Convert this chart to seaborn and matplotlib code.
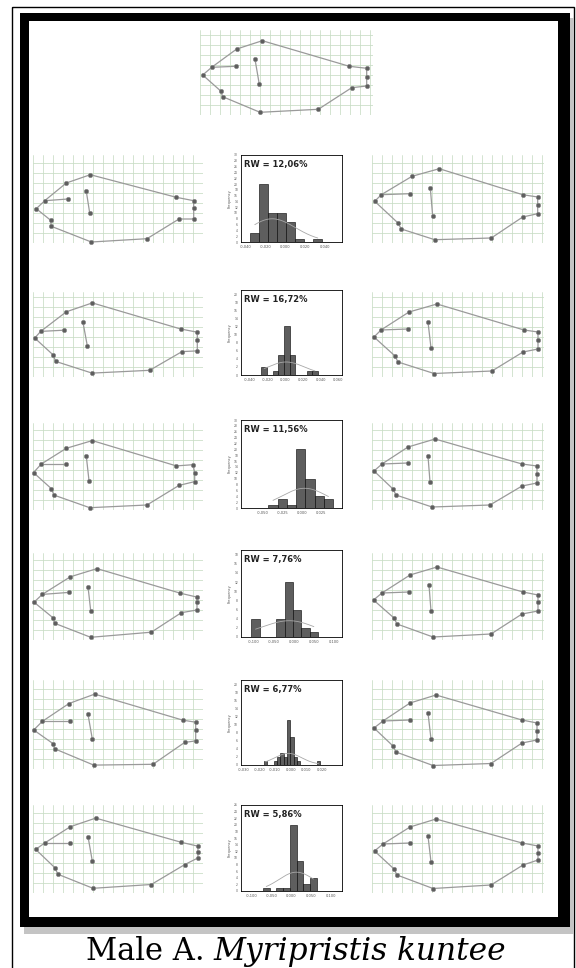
import numpy as np
import pandas as pd
import matplotlib.pyplot as plt
import seaborn as sn
from matplotlib.patches import Rectangle

# landmark configurations (grid units, 1 unit = 1 grid cell)
# order: A snout, B, C, D, E, F, G, H, I, J, K, L, M, N, P, Q
consensus = [(0.27,4.0),(1.17,4.77),(3.6,4.87),(3.67,6.6),(6.23,7.43),(14.93,4.87),(16.67,4.67),(16.67,3.83),
             (16.67,2.9),(15.17,2.73),(11.83,0.57),(6.0,0.27),(2.27,1.83),(2.07,2.4),(5.5,5.57),(5.93,3.07)]
left1 = [(0.33,3.43),(1.17,4.23),(3.5,4.4),(3.33,6.0),(5.73,6.83),(14.33,4.57),(16.07,4.23),(16.07,3.5),
         (16.07,2.4),(14.6,2.4),(11.4,0.43),(5.83,0.1),(1.83,1.67),(1.77,2.27),(5.33,5.17),(5.67,3.0)]
right1 = [(0.27,4.17),(0.93,4.83),(3.83,4.93),(4.0,6.67),(6.73,7.43),(15.07,4.83),(16.57,4.6),(16.57,3.83),
          (16.57,2.93),(15.07,2.6),(11.93,0.5),(6.27,0.33),(2.93,1.4),(2.6,2.0),(5.83,5.5),(6.07,2.67)]
left2 = [(0.17,3.9),(0.77,4.56),(3.1,4.68),(3.33,6.52),(5.93,7.41),(14.77,4.8),(16.43,4.48),(16.43,3.71),
         (16.43,2.61),(14.9,2.54),(11.67,0.67),(5.9,0.39),(2.27,1.56),(2.0,2.22),(5.0,5.46),(5.43,3.12)]
right2 = [(0.2,4.0),(0.9,4.7),(3.6,4.8),(3.7,6.5),(6.5,7.3),(15.2,4.7),(16.6,4.5),(16.6,3.7),
          (16.6,2.8),(15.1,2.5),(12.0,0.6),(6.2,0.35),(2.6,1.5),(2.3,2.1),(5.6,5.5),(5.9,2.9)]
left3 = [(0.05,3.74),(0.83,4.6),(3.33,4.6),(3.33,6.17),(5.93,6.94),(14.33,4.41),(16.0,4.53),(16.17,3.71),
         (16.17,2.84),(14.6,2.46),(11.4,0.5),(5.67,0.23),(2.1,1.49),(1.83,2.14),(5.33,5.38),(5.6,2.93)]
right3 = [(0.2,3.9),(1.0,4.6),(3.6,4.7),(3.6,6.3),(6.3,7.1),(15.0,4.6),(16.5,4.4),(16.5,3.6),
          (16.5,2.7),(15.0,2.4),(11.8,0.5),(6.0,0.3),(2.4,1.5),(2.1,2.1),(5.6,5.4),(5.8,2.8)]
left4 = [(0.1,3.78),(0.93,4.56),(3.6,4.76),(3.73,6.32),(6.4,7.14),(14.73,4.68),(16.4,4.29),(16.4,3.78),
         (16.4,3.0),(14.83,2.73),(11.83,0.78),(5.77,0.27),(2.17,1.67),(2.0,2.22),(5.5,5.35),(5.77,2.93)]
right4 = [(0.15,4.0),(1.0,4.7),(3.7,4.8),(3.8,6.5),(6.5,7.3),(15.1,4.8),(16.6,4.5),(16.6,3.8),
          (16.6,2.9),(15.0,2.6),(11.9,0.6),(6.1,0.3),(2.5,1.6),(2.2,2.2),(5.7,5.5),(5.9,2.9)]
left5 = [(0.07,3.9),(0.93,4.76),(3.67,4.76),(3.6,6.55),(6.17,7.49),(15.0,4.88),(16.27,4.68),(16.27,3.9),
         (16.27,2.81),(15.17,2.66),(12.0,0.47),(6.07,0.39),(2.17,2.02),(2.0,2.54),(5.5,5.46),(5.93,3.0)]
right5 = [(0.2,4.1),(1.1,4.8),(3.8,4.9),(3.8,6.6),(6.4,7.4),(15.0,4.9),(16.5,4.6),(16.5,3.8),
          (16.5,2.9),(15.0,2.6),(11.9,0.55),(6.1,0.35),(2.4,1.7),(2.1,2.3),(5.6,5.6),(5.9,3.0)]
left6 = [(0.27,4.36),(1.17,5.0),(3.73,5.0),(3.73,6.63),(6.27,7.49),(14.83,5.07),(16.5,4.68),(16.5,4.1),
         (16.5,3.51),(15.17,2.84),(11.83,0.85),(6.0,0.47),(2.5,1.87),(2.17,2.54),(5.5,5.65),(5.93,3.19)]
right6 = [(0.25,4.2),(1.1,4.9),(3.8,5.0),(3.8,6.6),(6.4,7.4),(15.0,5.0),(16.6,4.7),(16.6,4.0),
          (16.6,3.3),(15.1,2.8),(11.9,0.8),(6.1,0.45),(2.5,1.8),(2.2,2.4),(5.6,5.7),(5.9,3.1)]

# histograms of relative warp scores
rw_labels = ['RW = 12,06%', 'RW = 16,72%', 'RW = 11,56%', 'RW = 7,76%', 'RW = 6,77%', 'RW = 5,86%']
h1_counts = [3, 20, 10, 10, 7, 1, 0, 1]
h2_counts = [2, 0, 1, 5, 12, 5, 0, 0, 1, 1]
h3_counts = [1, 3, 1, 20, 10, 4, 3]
h4_counts = [4, 0, 0, 4, 12, 6, 2, 1]
h5_counts = [1, 0, 0, 1, 2, 3, 2, 11, 7, 2, 1, 0, 0, 0, 0, 0, 1]
h6_counts = [1, 0, 1, 1, 20, 9, 2, 4]
bin_start = [-0.035, -0.0272, -0.043, -0.1058, -0.01723, -0.072]
bin_width = [0.009, 0.0064, 0.01184, 0.02083, 0.002128, 0.01695]
h1_ticks = [-0.04, -0.02, 0.0, 0.02, 0.04]
h2_ticks = [-0.04, -0.02, 0.0, 0.02, 0.04, 0.06]
h3_ticks = [-0.05, -0.025, 0.0, 0.025]
h4_ticks = [-0.10, -0.05, 0.0, 0.05, 0.10]
h5_ticks = [-0.03, -0.02, -0.01, 0.0, 0.01, 0.02]
h6_ticks = [-0.10, -0.05, 0.0, 0.05, 0.10]
h_xlims = [(-0.0443, 0.0567), (-0.0502, 0.0642), (-0.0781, 0.0513), (-0.1317, 0.1208), (-0.0317, 0.0328), (-0.127, 0.127)]
h_ymax = [30, 21, 30, 19, 21, 26]

caption_plain = 'Male A.'
caption_italic = 'Myripristis kuntee'

W, H = 576, 968
sn.set_theme(style='white')
fig = plt.figure(figsize=(W/100, H/100), dpi=100)

def px_axes(x0, y0, x1, y1):
    return fig.add_axes([x0/W, 1 - y1/H, (x1-x0)/W, (y1-y0)/H])

# frame
bg = fig.add_axes([0, 0, 1, 1], zorder=0)
bg.set_xlim(0, W)
bg.set_ylim(H, 0)
bg.axis('off')
bg.add_patch(Rectangle((12, 7), 562, 990, fill=False, edgecolor='black', lw=1.0))
bg.add_patch(Rectangle((24, 18), 550, 916, facecolor='#c4c4c4', edgecolor='none'))
bg.add_patch(Rectangle((20, 13), 550, 914, facecolor='black', edgecolor='none'))
bg.add_patch(Rectangle((29, 21), 529, 896, facecolor='white', edgecolor='none'))

outline = [0, 1, 3, 4, 5, 6, 7, 8, 9, 10, 11, 12, 13, 0]

def draw_grid(box, shape):
    x0, y0, x1, y1 = box
    ax = px_axes(x0, y0, x1, y1)
    w = (x1 - x0) / 10
    h = (y1 - y0) / 10
    ax.set_xlim(0, w)
    ax.set_ylim(0, h)
    ax.set_xticks(np.arange(0, w + 0.01, 1))
    ax.set_yticks(np.arange(0, h + 0.01, 1))
    ax.grid(True, color='#c8dcc4', lw=0.55)
    ax.tick_params(length=0, labelbottom=False, labelleft=False)
    for s in ax.spines.values():
        s.set_visible(False)
    xs = [p[0] for p in shape]
    ys = [p[1] for p in shape]
    lc = '#9a9a9a'
    sn.lineplot(x=[xs[i] for i in outline], y=[ys[i] for i in outline], sort=False, estimator=None,
                color=lc, lw=0.9, ax=ax)
    sn.lineplot(x=[xs[1], xs[2]], y=[ys[1], ys[2]], sort=False, estimator=None, color=lc, lw=0.9, ax=ax)
    sn.lineplot(x=[xs[14], xs[15]], y=[ys[14], ys[15]], sort=False, estimator=None, color=lc, lw=0.9, ax=ax)
    sn.scatterplot(x=xs, y=ys, color='#5e5e5e', s=10, edgecolor='#8a8a8a', linewidth=0.4, ax=ax, clip_on=False, zorder=5)

def draw_hist(box, counts, start, width, ticks, xlim, ymax, label):
    x0, y0, x1, y1 = box
    ax = px_axes(x0, y0, x1, y1)
    edges = start + width * np.arange(len(counts) + 1)
    df = pd.DataFrame({'score': edges[:-1] + width / 2, 'n': counts})
    sn.histplot(data=df, x='score', weights='n', bins=list(edges), color='#5e5e5e', edgecolor='black',
                linewidth=0.4, alpha=1, kde=True, kde_kws={'bw_adjust': 1.8}, ax=ax)
    for ln in ax.lines:
        ln.set_color('#a8a8a8')
        ln.set_linewidth(0.6)
    ax.set_xlim(*xlim)
    ax.set_ylim(0, ymax)
    ax.set_xticks(ticks)
    ax.set_xticklabels([('%.3f' % t).replace('.', ',') for t in ticks], fontsize=2.6, color='#555555')
    ax.set_yticks(np.arange(0, ymax + 1, 2))
    ax.set_yticklabels([str(v) for v in np.arange(0, ymax + 1, 2)], fontsize=2.2, color='#555555')
    ax.tick_params(length=1.2, width=0.3, pad=1)
    ax.set_xlabel('')
    ax.set_ylabel('Frequency', fontsize=2.6, labelpad=1.5, color='#555555')
    for s in ax.spines.values():
        s.set_visible(True)
        s.set_color('black')
        s.set_linewidth(0.6)
    ax.text(0.03, 0.94, label, transform=ax.transAxes, fontsize=6.0, fontweight='bold', va='top', ha='left',
            color='#222222')

# consensus on top
draw_grid((200, 30, 373, 115), consensus)

rows_y = [(155, 243), (292, 377), (423, 510), (553, 640), (680, 769), (805, 893)]
hist_y = [(155, 242), (290, 375), (420, 508), (550, 637), (680, 765), (805, 891)]
lefts = [left1, left2, left3, left4, left5, left6]
rights = [right1, right2, right3, right4, right5, right6]
counts_all = [h1_counts, h2_counts, h3_counts, h4_counts, h5_counts, h6_counts]
ticks_all = [h1_ticks, h2_ticks, h3_ticks, h4_ticks, h5_ticks, h6_ticks]

for i in range(6):
    ya, yb = rows_y[i]
    draw_grid((33, ya, 203, yb), lefts[i])
    draw_grid((372, ya, 544, yb), rights[i])
    ha, hb = hist_y[i]
    draw_hist((241, ha, 342, hb), counts_all[i], bin_start[i], bin_width[i], ticks_all[i],
              h_xlims[i], h_ymax[i], rw_labels[i])

# caption
fig.text(86/W, 1 - 960/H, caption_plain, fontsize=22, family='DejaVu Serif', va='baseline', ha='left',
         color='black')
fig.text(213/W, 1 - 960/H, caption_italic, fontsize=22.5, family='DejaVu Serif', style='italic',
         va='baseline', ha='left', color='black')

plt.savefig('out.png', dpi=100)
